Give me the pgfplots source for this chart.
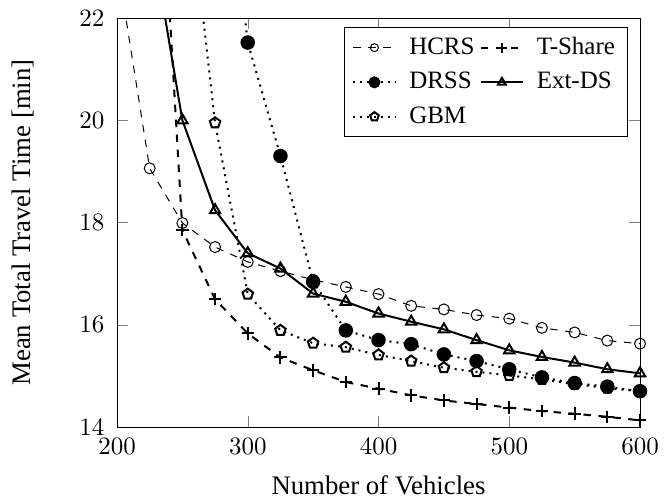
\documentclass[border=0pt]{standalone}
\usepackage{fontspec}
\setmainfont{Liberation Serif}
\usepackage{pgfplots}
\pgfplotsset{compat=1.18}
\begin{document}
\begin{tikzpicture}
\begin{axis}[
  scale only axis,
  width=209.2pt, height=163.6pt,
  xmin=200, xmax=600, ymin=14, ymax=22,
  xtick={200,300,400,500,600},
  ytick={14,16,18,20,22},
  xlabel={Number of Vehicles},
  ylabel={Mean Total Travel Time [min]},
  label style={font=\fontsize{10.7}{12.8}\selectfont, inner sep=1pt},
  x label style={at={(axis description cs:0.5,-0.1418)}, anchor=center},
  y label style={at={(axis description cs:-0.1797,0.5)}, anchor=center},
  yticklabel shift=1.5pt,
  xticklabel shift=1.2pt,
  legend columns=2,
  legend cell align=left,
  legend style={at={(axis description cs:0.977,0.979)}, anchor=north east, draw=black, font=\normalsize, row sep=1.6pt,
    /tikz/every odd column/.append style={column sep=3pt}},
]
% legend entries
\addlegendimage{black, dashed, mark=o, mark size=1.6pt, mark options={solid}}
\addlegendentry{HCRS}
\addlegendimage{black, thick, dashed, mark=+, mark size=2pt, mark options={solid}}
\addlegendentry{T-Share}
\addlegendimage{black, thick, dotted, mark=*, mark size=2pt, mark options={solid}}
\addlegendentry{DRSS}
\addlegendimage{black, thick, mark=triangle, mark size=1.8pt, mark options={solid}}
\addlegendentry{Ext-DS}
\addlegendimage{black, thick, dotted, mark=pentagon, mark size=1.8pt, mark options={solid}}
\addlegendentry{GBM}

% GBM
\addplot[black, thick, dotted, mark=pentagon, mark size=2.2pt, mark options={solid, thick}, forget plot] coordinates {
(250,25.6) (275,19.95) (300,16.60) (325,15.89) (350,15.64) (375,15.56) (400,15.41) (425,15.29) (450,15.16) (475,15.08) (500,15.01) (525,14.93) (550,14.84) (575,14.76) (600,14.70)
};
% HCRS
\addplot[black, dashed, mark=o, mark size=2.2pt, mark options={solid}, forget plot] coordinates {
(200,23.1) (225,19.06) (250,17.99) (275,17.52) (300,17.23) (325,17.05) (350,16.88) (375,16.74) (400,16.60) (425,16.37) (450,16.30) (475,16.19) (500,16.12) (525,15.94) (550,15.85) (575,15.69) (600,15.63)
};
% T-Share
\addplot[black, thick, dashed, mark=+, mark size=2.5pt, mark options={solid, thick}, forget plot] coordinates {
(225,28.8) (250,17.85) (275,16.50) (300,15.83) (325,15.36) (350,15.11) (375,14.88) (400,14.75) (425,14.62) (450,14.52) (475,14.45) (500,14.38) (525,14.31) (550,14.26) (575,14.20) (600,14.13)
};
% Ext-DS
\addplot[black, thick, mark=triangle, mark size=2.4pt, mark options={solid, thick}, forget plot] coordinates {
(225,23.8) (250,20.0) (275,18.24) (300,17.40) (325,17.10) (350,16.61) (375,16.45) (400,16.22) (425,16.06) (450,15.91) (475,15.70) (500,15.50) (525,15.37) (550,15.26) (575,15.13) (600,15.05)
};
% DRSS
\addplot[black, thick, dotted, mark=*, mark size=2.5pt, mark options={solid}, forget plot] coordinates {
(275,27.2) (300,21.52) (325,19.30) (350,16.84) (375,15.89) (400,15.70) (425,15.62) (450,15.42) (475,15.29) (500,15.13) (525,14.97) (550,14.86) (575,14.79) (600,14.70)
};
\end{axis}
\pgfresetboundingbox
\path[use as bounding box] ([shift={(-46.8pt,-28pt)}]current axis.south west) rectangle ([shift={(12.8pt,7.2pt)}]current axis.north east);
\end{tikzpicture}
\end{document}
